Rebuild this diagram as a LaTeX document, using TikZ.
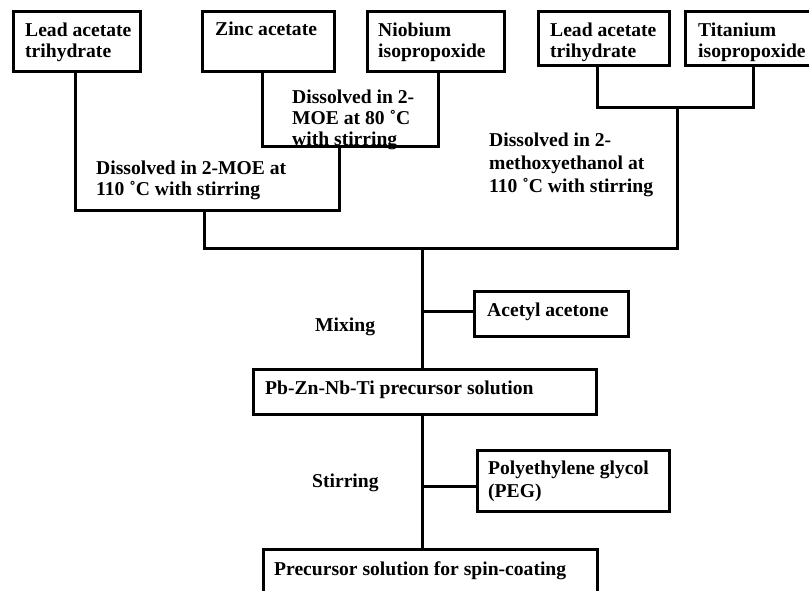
\documentclass[tikz,border=0pt]{standalone}
\usepackage{fontspec}
\setmainfont{Liberation Serif}
\begin{document}
\begin{tikzpicture}[x=1pt,y=-1pt,
  box/.style={draw, line width=3pt, inner sep=0pt, anchor=north west},
  lbl/.style={anchor=base west, inner sep=0pt, align=left, font=\fontsize{19.6}{21}\selectfont\bfseries},
  wide/.style={font=\fontsize{19.6}{23}\selectfont\bfseries},
  conn/.style={line width=3pt}]
\clip (0,0) rectangle (809,591);
\fill[white] (0,0) rectangle (809,591);
% texts (base = baseline of last line)
\node[lbl] (t1) at (25,58) {Lead acetate\\trihydrate};
\node[lbl] (t2) at (215,36) {Zinc acetate};
\node[lbl] (t3) at (378,58) {Niobium\\isopropoxide};
\begin{scope}
\clip (537,10) rectangle (809,64);
\node[lbl] (t4) at (550,58) {Lead acetate\\trihydrate};
\node[lbl] (t5) at (698,58) {Titanium\\isopropoxide};
\end{scope}
\node[lbl] (t6) at (292,145.5) {Dissolved in 2-\\MOE at 80 ˚C\\with stirring};
\node[lbl] (t7) at (96,196) {Dissolved in 2-MOE at\\110 ˚C with stirring};
\node[lbl, wide] (t8) at (489,193) {Dissolved in 2-\\methoxyethanol at\\110 ˚C with stirring};
\node[lbl] (t9) at (487,316) {Acetyl acetone};
\node[lbl] (t10) at (315,331) {Mixing};
\node[lbl] (t11) at (265,394) {Pb-Zn-Nb-Ti precursor solution};
\node[lbl] (t12) at (312,487) {Stirring};
\node[lbl, wide] (t13) at (488,497) {Polyethylene glycol\\(PEG)};
\node[lbl] (t14) at (274,575) {Precursor solution for spin-coating};
% boxes
\node[box, minimum width=127pt, minimum height=60pt] (lead1) at (12,10) {};
\node[box, minimum width=132pt, minimum height=60pt] (zinc) at (201,10) {};
\node[box, minimum width=137pt, minimum height=60pt] (niob) at (366,10) {};
\node[box, minimum width=131pt, minimum height=54pt] (lead2) at (537,10) {};
\node[box, minimum width=150pt, minimum height=54pt] (titan) at (684,10) {};
\node[box, minimum width=154pt, minimum height=45pt] (acetyl) at (473,290) {};
\node[box, minimum width=343pt, minimum height=45pt] (pb) at (252,368) {};
\node[box, minimum width=192pt, minimum height=61pt] (peg) at (476,449) {};
\node[box, minimum width=334pt, minimum height=70pt] (final) at (262,548) {};
% junction coordinates
\coordinate (xa) at (75,210);
\coordinate (xz) at (262,147);
\coordinate (xn) at (438,147);
\coordinate (xm1) at (339,147);
\coordinate (xb) at (204,248);
\coordinate (xl2) at (597,108);
\coordinate (xt) at (753,108);
\coordinate (xr) at (677,108);
\coordinate (xc) at (422,248);
\coordinate (ja) at (422,311);
\coordinate (jp) at (422,486);
% connectors
\draw[conn] (lead1.south -| xa) |- (xm1 |- xa) -- (xm1);
\draw[conn] (zinc.south -| xz) |- (xn) -- (niob.south -| xn);
\draw[conn] (xb |- xa) |- (xr |- xb) -- (xr);
\draw[conn] (lead2.south -| xl2) |- (xt) -- (titan.south -| xt);
\draw[conn] (xc) -- (pb.north -| xc);
\draw[conn] (ja) -- (acetyl.west |- ja);
\draw[conn] (pb.south -| xc) -- (final.north -| xc);
\draw[conn] (jp) -- (peg.west |- jp);
\end{tikzpicture}
\end{document}
